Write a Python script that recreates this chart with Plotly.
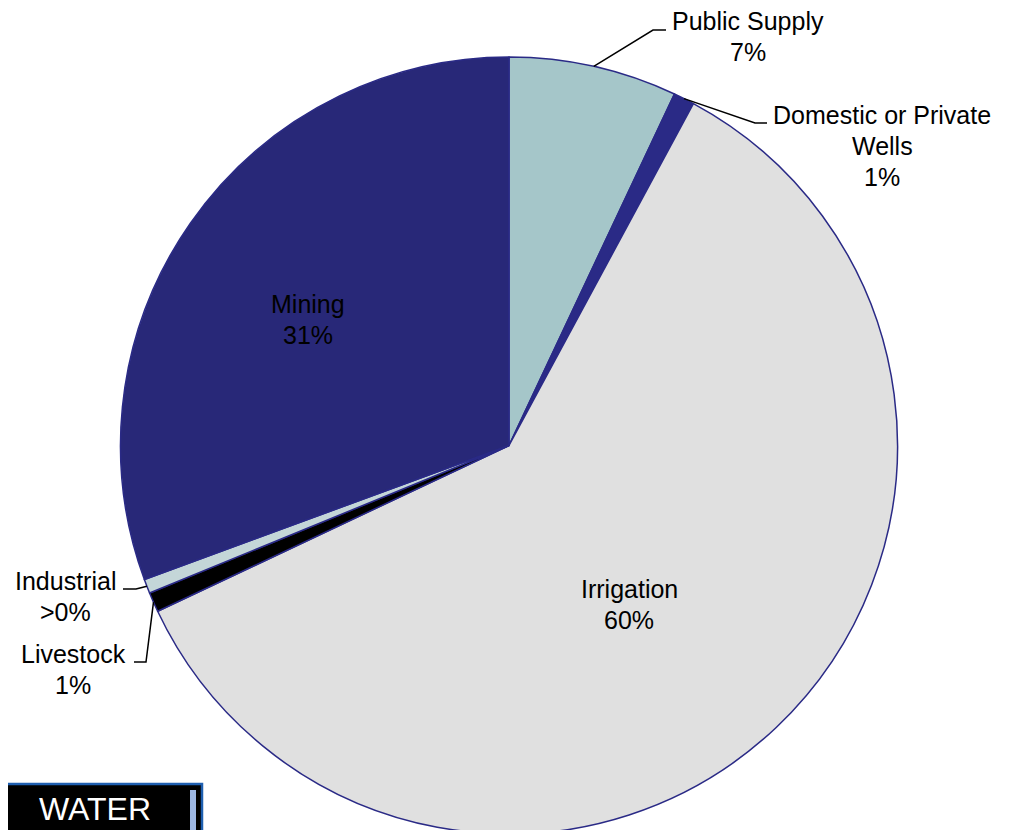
import math
import plotly.graph_objects as go

# ---- data ----
categories = ["Public Supply", "Domestic or Private Wells", "Irrigation", "Livestock", "Industrial", "Mining"]
values = [7.0, 0.87, 60.1, 0.82, 0.59, 30.6]
pct_labels = ["7%", "1%", "60%", "1%", ">0%", "31%"]
label_lines = [["Public Supply"], ["Domestic or Private", "Wells"], ["Irrigation"],
               ["Livestock"], ["Industrial"], ["Mining"]]
colors = ["#A5C6C9", "#2A2A86", "#E0E0E0", "#000000", "#C4D6D8", "#282878"]

W, H = 1013, 830
OFF = 8  # page body margin of the browser
FONT = "Liberation Sans, Arial, sans-serif"
FS = 25
LINE_GAP = 31

# pie geometry in window pixels
cx, top_px, r = 509, 57, 388.5
cy = top_px + r

def px2paper(x, y):
    return (x - OFF) / W, 1 - (y - OFF) / H

dom_x = [px2paper(cx - r, 0)[0], px2paper(cx + r, 0)[0]]
dom_y = [max(0.0, px2paper(0, top_px + 2 * r)[1]), px2paper(0, top_px)[1]]

fig = go.Figure(go.Pie(
    labels=categories, values=values, sort=False, direction="clockwise", rotation=0,
    marker=dict(colors=colors, line=dict(color="#2A2A86", width=1.5)),
    textinfo="none", hoverinfo="label+percent", showlegend=False,
    domain=dict(x=dom_x, y=dom_y),
))

# label placement (window pixel centre of first line) and leader-line elbows
label_pos = {
    "Public Supply": dict(x=748, y=21, elbow=[(653, 30), (666, 30)]),
    "Domestic or Private Wells": dict(x=882, y=115, elbow=[(755, 123), (767, 123)]),
    "Irrigation": dict(x=629, y=589, elbow=None),
    "Livestock": dict(x=73, y=654, elbow=[(146, 662), (134, 662)]),
    "Industrial": dict(x=65, y=581, elbow=[(136, 589), (123, 589)]),
    "Mining": dict(x=308, y=304, elbow=None),
}

total = sum(values)
cum = 0.0
shapes = []
annotations = []
for cat, v, pct, lines in zip(categories, values, pct_labels, label_lines):
    mid = (cum + v / 2) / total
    cum += v
    ang = 2 * math.pi * mid
    sx = cx + r * math.sin(ang)
    sy = cy - r * math.cos(ang)
    lp = label_pos[cat]
    for i, t in enumerate(lines + [pct]):
        x, y = px2paper(lp["x"], lp["y"] + i * LINE_GAP)
        annotations.append(dict(x=x, y=y, xref="paper", yref="paper", text=t,
                                showarrow=False, font=dict(family=FONT, size=FS, color="black"),
                                xanchor="center", yanchor="middle"))
    if lp["elbow"]:
        pts = [(sx, sy)] + lp["elbow"]
        path = "M " + " L ".join("%.5f,%.5f" % px2paper(a, b) for a, b in pts)
        shapes.append(dict(type="path", path=path, xref="paper", yref="paper",
                           line=dict(color="black", width=1.5)))

# logo box at bottom-left
bx0, by0 = px2paper(-2, 900)
bx1, by1 = px2paper(202, 784)
shapes.append(dict(type="rect", xref="paper", yref="paper", x0=bx0, x1=bx1, y0=by0, y1=by1,
                   fillcolor="black", line=dict(color="#1F5FB0", width=2.5)))
sx0, sy0 = px2paper(190, 900)
sx1, sy1 = px2paper(196, 790)
shapes.append(dict(type="rect", xref="paper", yref="paper", x0=sx0, x1=sx1, y0=sy0, y1=sy1,
                   fillcolor="#9DB8E4", line=dict(width=0)))
lx, ly = px2paper(95, 829)
annotations.append(dict(x=lx, y=ly, xref="paper", yref="paper", text="WATER",
                        showarrow=False, xanchor="center", yanchor="bottom",
                        font=dict(family=FONT, size=32, color="white")))

fig.update_layout(width=W, height=H, margin=dict(l=0, r=0, t=0, b=0),
                  paper_bgcolor="white", plot_bgcolor="white",
                  shapes=shapes, annotations=annotations)
fig.write_html("out.html")
